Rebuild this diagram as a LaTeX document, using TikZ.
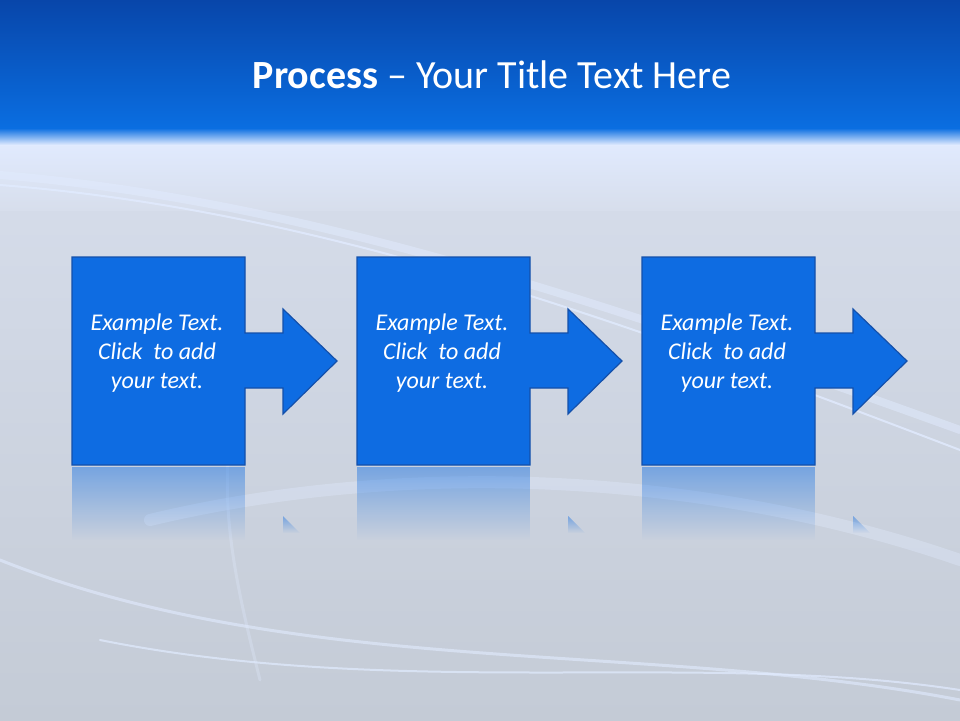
\documentclass[tikz,border=0pt]{standalone}
\usepackage{fontspec}
\setmainfont{Carlito}
\usetikzlibrary{fadings}
\definecolor{boxblue}{RGB}{14,108,226}
\definecolor{edgeblue}{RGB}{20,80,170}
\definecolor{topdark}{RGB}{8,70,170}
\definecolor{topmid}{RGB}{10,110,225}
\definecolor{bgA}{RGB}{215,222,236}
\definecolor{bgB}{RGB}{196,203,214}
\definecolor{glow}{RGB}{225,235,255}
\tikzfading[name=reflfade, top color=transparent!55, bottom color=transparent!100]
\tikzset{
  stepshape/.style={fill=boxblue, draw=edgeblue, line width=1.2pt, line join=miter},
  steptext/.style={text=white, font=\itshape\fontsize{24}{29}\selectfont, align=center},
  wave/.style={glow, line cap=round},
}
\begin{document}
\begin{tikzpicture}[x=1pt,y=-1pt]
\useasboundingbox (0,0) rectangle (960,720);
% background
\shade[top color=bgA, bottom color=bgB] (0,125) rectangle (960,720);
\shade[top color=glow, bottom color=bgA] (0,140) rectangle (960,210);
\draw[wave, opacity=0.5, line width=8pt] (0,175) .. controls (300,200) and (600,300) .. (960,430);
\draw[wave, opacity=0.8, line width=2pt] (0,185) .. controls (320,210) and (620,320) .. (960,450);
\draw[wave, opacity=0.35, line width=12pt] (150,520) .. controls (400,460) and (700,470) .. (960,560);
\draw[wave, opacity=0.6, line width=3pt] (0,560) .. controls (300,680) and (650,640) .. (960,700);
\draw[wave, opacity=0.7, line width=2pt] (100,640) .. controls (400,700) and (700,650) .. (960,690);
\draw[wave, opacity=0.3, line width=3pt] (230,440) .. controls (220,520) and (240,600) .. (260,680);
% top band
\shade[top color=topdark, bottom color=topmid] (0,0) rectangle (960,128);
\shade[top color=topmid, bottom color=glow] (0,128) rectangle (960,145);
\node[text=white, font=\fontsize{40}{44}\selectfont] (title) at (492,75) {\textbf{Process} -- Your Title Text Here};
% steps
\foreach \i/\dx in {1/0,2/285,3/570}{
  \begin{scope}[xshift=\dx]
    \fill[boxblue, path fading=reflfade] (72,467) rectangle (245,540);
    \fill[boxblue, path fading=reflfade] (283,516) -- (300,533) -- (283,533) -- cycle;
    \draw[stepshape] (72,257) -- (245,257) -- (245,333) -- (283,333) -- (283,309) -- (337,361)
      -- (283,414) -- (283,388) -- (245,388) -- (245,465) -- (72,465) -- cycle;
    \node[steptext] (t\i) at (157,353) {Example Text.\\Click~ to add\\your text.};
  \end{scope}
}
\end{tikzpicture}
\end{document}
